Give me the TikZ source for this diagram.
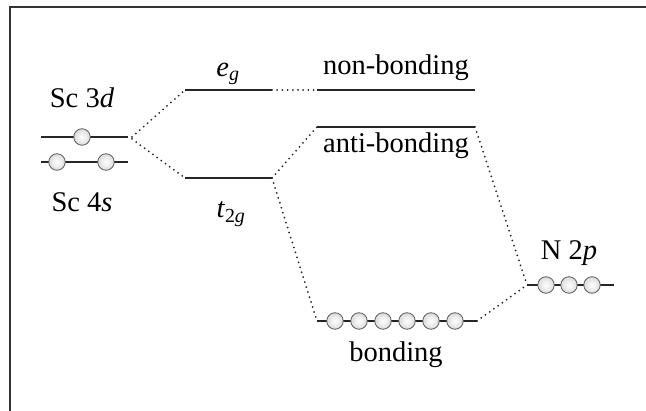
\documentclass[tikz,border=0pt]{standalone}
\usepackage{fontspec}
\setmainfont{Liberation Serif}
\begin{document}
\begin{tikzpicture}[x=1pt,y=-1pt,
  lvl/.style={line width=2.2pt, black!85},
  orb/.style={circle, minimum size=16.5pt, inner sep=0pt, draw=black!65, line width=0.8pt, inner color=white, outer color=black!14},
  conn/.style={line width=2pt, black!85, dash pattern=on 0pt off 5.2pt, line cap=round},
  lab/.style={anchor=base, inner sep=0pt, font=\fontsize{28.5}{32}\selectfont},
  frame/.style={line width=2.8pt, black!80}]
\useasboundingbox (0,0) rectangle (646,411);
\fill[white] (0,0) rectangle (646,411);
\draw[frame] (10,411) -- (10,7) -- (646,7);
% level end points
\coordinate (dL) at (41,137); \coordinate (dR) at (128,137);
\coordinate (sL) at (41,162); \coordinate (sR) at (128,162);
\coordinate (egL) at (185,90); \coordinate (egR) at (272,90);
\coordinate (tgL) at (185,178); \coordinate (tgR) at (272,178);
\coordinate (nbL) at (317,90); \coordinate (nbR) at (475,90);
\coordinate (abL) at (317,127); \coordinate (abR) at (475,127);
\coordinate (bL) at (317,321); \coordinate (bR) at (477,321);
\coordinate (pL) at (527,285); \coordinate (pR) at (614,285);
% levels
\draw[lvl] (dL) -- (dR);
\draw[lvl] (sL) -- (sR);
\draw[lvl] (egL) -- (egR);
\draw[lvl] (tgL) -- (tgR);
\draw[lvl] (nbL) -- (nbR);
\draw[lvl] (abL) -- (abR);
\draw[lvl] (bL) -- (bR);
\draw[lvl] (pL) -- (pR);
% orbitals
\node[orb] (d1) at (82,137) {};
\node[orb] (s1) at (57,162) {};
\node[orb] (s2) at (106,162) {};
\foreach \i/\x in {1/335,2/359,3/383,4/407,5/431,6/455} \node[orb] (b\i) at (\x,321) {};
\foreach \i/\x in {1/546,2/569,3/592} \node[orb] (p\i) at (\x,285) {};
% connectors
\draw[conn] (dR) ++(4,0) -- (egL);
\draw[conn] (dR) ++(4,2) -- (tgL);
\draw[conn] (egR) -- (nbL);
\draw[conn] (tgR) -- (abL);
\draw[conn] (tgR) -- (bL);
\draw[conn] (abR) -- (pL);
\draw[conn] (bR) -- (pL);
% labels
\node[lab] (l3d) at (82,108) {Sc 3\textit{d}};
\node[lab] (l4s) at (82,212) {Sc 4\textit{s}};
\node[lab] (leg) at (228,77) {\textit{e}\textsubscript{\textit{g}}};
\node[lab] (ltg) at (231,218) {\textit{t}\textsubscript{2\textit{g}}};
\node[lab] (lnb) at (396,75) {non-bonding};
\node[lab] (lab) at (396,153) {anti-bonding};
\node[lab] (lb) at (396,362) {bonding};
\node[lab] (lp) at (569,260) {N 2\textit{p}};
\end{tikzpicture}
\end{document}
